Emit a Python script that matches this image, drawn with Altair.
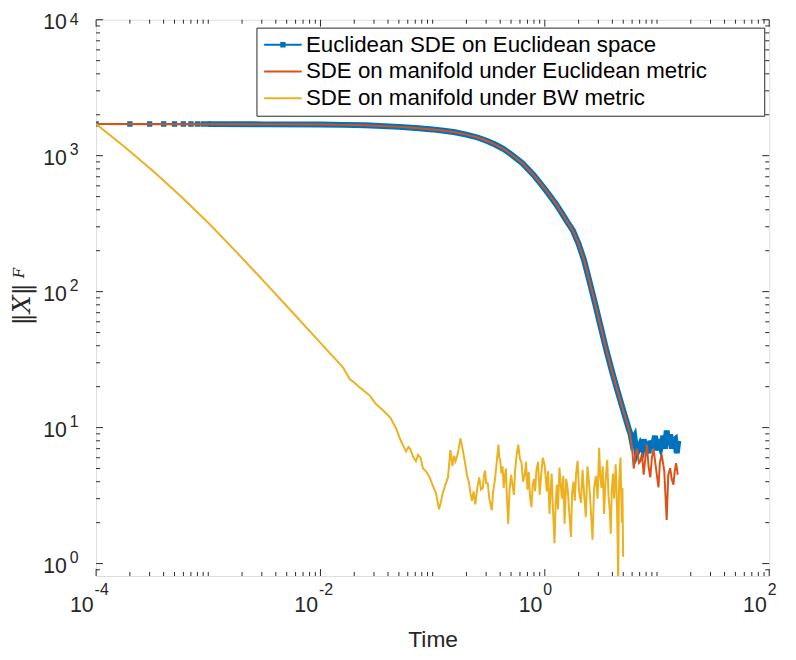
import altair as alt
import pandas as pd

# ---------------- data ----------------
SERIES = ["Euclidean SDE on Euclidean space",
          "SDE on manifold under Euclidean metric",
          "SDE on manifold under BW metric"]
COLORS = ["#0072BD", "#D95319", "#EDB120"]

# early marker points of the blue series (distinct squares)
marker_t = [1e-4, 2e-4, 3e-4, 4e-4, 5e-4, 6e-4, 7e-4, 8e-4, 9e-4, 1e-3]
marker_v = [1710, 1710, 1710, 1710, 1710, 1710, 1710, 1710, 1710, 1710]

# smooth part shared by blue and red
smooth_t = [1e-4, 1e-3, 3.16e-3, 1e-2, 0.0158, 0.0251, 0.0501, 0.0708, 0.1,
            0.1259, 0.1585, 0.1995, 0.2512, 0.302, 0.3606, 0.4266, 0.5012,
            0.631, 0.794, 1.0, 1.122, 1.259, 1.413, 1.585, 1.778,
            1.995, 2.239, 2.512, 2.818, 3.162, 3.548, 3.981, 4.467, 5.012, 5.623]
smooth_v = [1710, 1706, 1700, 1694, 1685, 1675, 1629, 1597, 1560,
            1524, 1486, 1429, 1361, 1288, 1208, 1122, 1023,
            881, 721, 569, 501, 440, 380, 326, 282,
            226, 170, 117.5, 80.4, 54.3, 36.7, 25.7, 18.4, 13.3, 9.66]

blue_tail_t = [5.8, 6.0, 6.3, 6.6, 7.1, 7.4, 7.6, 7.9, 8.1, 8.4, 8.7, 9.1, 9.6,
               10.0, 10.3, 10.8, 11.4, 11.8, 12.2, 12.6, 13.1, 13.6, 14.0,
               14.5, 15.0, 15.5]
blue_tail_v = [9.0, 7.8, 8.5, 6.5, 7.55, 7.0, 8.2, 6.8, 7.55, 6.5, 8.0, 7.0, 8.7,
               6.8, 8.2, 7.2, 8.7, 7.0, 9.5, 7.5, 8.9, 7.0, 8.0,
               8.2, 6.5, 8.0]

red_tail_t = [5.8, 6.0, 6.2, 6.4, 6.64, 6.9, 7.11, 7.35, 7.6, 7.85, 8.13, 8.4,
              8.71, 9.0, 9.31, 9.8, 10.3, 10.6, 11.0, 11.6, 12.2, 12.6, 13.1,
              13.5, 14.0, 14.4, 14.8, 15.3]
red_tail_v = [8.5, 7.0, 5.0, 6.2, 7.0, 5.5, 5.66, 6.5, 4.5, 5.8, 7.5, 5.2,
              4.3, 6.0, 7.0, 5.0, 3.63, 5.5, 6.34, 4.8, 2.09, 4.5, 5.03,
              4.2, 3.81, 4.8, 5.47, 4.5]

orange_t = [1e-4, 1.778e-4, 3.162e-4, 5.623e-4, 1e-3, 1.778e-3, 3.162e-3,
            5.623e-3, 1e-2, 1.259e-2, 1.585e-2,
            0.0183, 0.02, 0.022, 0.0245, 0.0275, 0.031, 0.036, 0.039, 0.042,
            0.0472, 0.052, 0.0545, 0.0579, 0.061, 0.063, 0.067, 0.071, 0.074,
            0.078, 0.082, 0.087, 0.093, 0.0995, 0.107, 0.114, 0.118, 0.122,
            0.130, 0.137, 0.144, 0.150, 0.155, 0.160, 0.168, 0.177, 0.186,
            0.196, 0.203, 0.21, 0.217, 0.224, 0.232, 0.240, 0.25, 0.26, 0.27,
            0.28, 0.287, 0.294, 0.30, 0.31, 0.32, 0.337, 0.345, 0.36, 0.372,
            0.386, 0.393, 0.40, 0.41, 0.42, 0.43, 0.44, 0.45, 0.46, 0.472,
            0.485, 0.50, 0.515, 0.53, 0.545, 0.56, 0.579, 0.60, 0.62, 0.64,
            0.663, 0.68, 0.70, 0.72, 0.74, 0.76, 0.78, 0.80, 0.82, 0.841,
            0.87, 0.90, 0.93, 0.96, 0.995, 1.02, 1.04, 1.07, 1.10, 1.13, 1.15,
            1.18, 1.22, 1.25, 1.28, 1.31, 1.35, 1.38, 1.42, 1.46, 1.50, 1.55,
            1.60, 1.65, 1.71, 1.75, 1.80, 1.85, 1.90, 1.96, 2.02, 2.1, 2.17,
            2.25, 2.32, 2.4, 2.48, 2.55, 2.66, 2.75, 2.85, 2.95, 3.05, 3.12,
            3.2, 3.28, 3.37, 3.47, 3.6, 3.7, 3.8, 3.87, 3.95, 4.05, 4.15, 4.28,
            4.35, 4.4, 4.46, 4.51, 4.56, 4.6, 4.66, 4.73, 4.79, 4.85, 4.92,
            4.99]
orange_v = [1710, 1169, 782, 508, 321, 196, 118,
            70.5, 42.0, 34.1, 27.7,
            22.7, 21.5, 20.0, 18.6, 17.2, 15.0, 13.4, 12.6, 11.8,
            9.85, 8.0, 7.4, 6.69, 7.2, 7.0, 6.1, 5.66, 6.3,
            6.0, 5.0, 4.79, 4.4, 3.81, 3.3, 2.51, 2.8, 3.2,
            3.81, 4.3, 6.84, 5.2, 6.2, 5.66, 6.5, 8.32, 6.8,
            5.3, 4.4, 4.0, 3.3, 2.9, 3.4, 2.73, 3.6, 4.3, 3.5,
            3.6, 4.5, 4.83, 3.9, 3.9, 3.0, 2.47, 3.3, 4.2, 5.5,
            7.5, 6.0, 5.8, 4.6, 5.2, 3.6, 4.4, 5.0, 3.0, 1.96,
            3.5, 4.5, 3.8, 3.2, 5.0, 6.2, 7.5, 5.9, 5.5, 4.0,
            4.54, 5.6, 3.5, 4.7, 3.0, 2.6, 3.8, 4.2, 3.4, 4.83,
            5.6, 3.2, 4.6, 6.0, 5.37, 4.2, 3.4, 4.8, 2.32, 3.6, 4.6,
            2.6, 1.41, 2.8, 3.8, 2.5, 5.08, 4.0, 3.0, 4.4, 1.96, 4.2,
            3.5, 2.4, 1.57, 3.3, 4.0, 2.9, 4.6, 5.7, 3.4, 2.8, 4.9,
            3.07, 2.2, 5.2, 3.9, 2.8, 1.5, 3.6, 4.4, 3.0, 7.1, 4.4,
            3.6, 5.2, 2.32, 4.0, 5.8, 3.1, 2.4, 1.66, 3.4, 4.6, 3.0, 5.37,
            3.8, 2.6, 1.4, 0.7, 2.6, 4.0, 5.0, 6.02, 3.4, 2.0, 3.6,
            1.12]

# axis ticks / labels (base "10" and exponents drawn separately, MATLAB style)
x_major = [1e-4, 1e-2, 1.0, 100.0]
x_exponents = ["-4", "-2", "0", "2"]
y_major = [1.0, 10.0, 100.0, 1000.0, 10000.0]
y_exponents = ["0", "1", "2", "3", "4"]
x_decades = [1e-4, 1e-3, 1e-2, 1e-1, 1.0, 10.0]
y_decades = [0.1, 1.0, 10.0, 100.0, 1000.0]
multipliers = [1, 2, 3, 4, 5, 6, 7, 8, 9]

x_minor = [d * m for d in x_decades for m in multipliers
           if not any(abs(d * m - M) < 1e-9 * M for M in x_major)]
y_minor = [d * m for d in y_decades for m in multipliers
           if d * m >= 0.81 and not any(abs(d * m - M) < 1e-9 * M for M in y_major)]

# ---------------- frames ----------------
blue = pd.DataFrame({"t": smooth_t + blue_tail_t, "v": smooth_v + blue_tail_v})
blue_band = blue[blue["t"] >= 8e-4]
red = pd.DataFrame({"t": smooth_t + red_tail_t, "v": smooth_v + red_tail_v})
orange = pd.DataFrame({"t": orange_t, "v": orange_v})
markers = pd.DataFrame({"t": marker_t, "v": marker_v, "series": [SERIES[0]] * len(marker_t)})

W, H = 680, 562
FONT = "Liberation Sans"
AX = "#262626"

def label_expr(vals, labels):
    expr = "'" + labels[-1] + "'"
    for v, l in reversed(list(zip(vals[:-1], labels[:-1]))):
        expr = f"datum.value < {v * 1.5} ? '{l}' : " + expr
    return expr

xs = alt.Scale(type="log", domain=[1e-4, 100], nice=False)
ys = alt.Scale(type="log", domain=[0.81, 10000], nice=False)

common = dict(ticks=False, domain=False, grid=False, labelFont=FONT,
              labelColor=AX, labelFlush=False, labelOverlap=False)

xaxis = alt.Axis(values=x_major, labelExpr="'10'", labelFontSize=21.5,
                 labelAlign="right", labelOffset=-3, labelPadding=19,
                 title="Time", titleFont=FONT, titleFontSize=23,
                 titleFontWeight="normal", titleColor=AX, titlePadding=13, **common)
xexp_axis = alt.Axis(orient="top", offset=-(H + 22), values=x_major,
                     labelExpr=label_expr(x_major, x_exponents), labelFontSize=16,
                     labelAlign="left", labelOffset=-2, labelPadding=0,
                     labelBaseline="bottom", title=None, **common)
yaxis = alt.Axis(values=y_major, labelExpr="'10'", labelFontSize=21.5,
                 labelAlign="right", labelPadding=30, labelOffset=3,
                 title="\u2016X\u2016", titleFont="DejaVu Serif",
                 titleFontStyle="italic", titleFontSize=25,
                 titleFontWeight="normal", titleColor=AX, titleX=-75, titleY=287,
                 titleAngle=270, titleAlign="center", titleBaseline="middle", **common)
yexp_axis = alt.Axis(orient="right", offset=-(W + 27), values=y_major,
                     labelExpr=label_expr(y_major, y_exponents), labelFontSize=16,
                     labelAlign="left", labelPadding=0,
                     labelOffset={"condition": {"test": "datum.value > 5000", "value": -0.5},
                                  "value": -6},
                     title=None, **common)

X = alt.X("t:Q", scale=xs, axis=xaxis)
Y = alt.Y("v:Q", scale=ys, axis=yaxis)
Xn = alt.X("t:Q", scale=xs, axis=None)
Yn = alt.Y("v:Q", scale=ys, axis=None)

blue_line = alt.Chart(blue).mark_line(color=COLORS[0], strokeWidth=2, clip=True).encode(x=X, y=Y)
blue_thick = alt.Chart(blue_band).mark_line(color=COLORS[0], strokeWidth=6, clip=True).encode(x=Xn, y=Yn)

PATHS = ["M-2,0H2M-0.18,-0.18H0.18V0.18H-0.18Z", "M-2,0H2", "M-2,0H2"]
PAD = "\u2800" * 3
leg = dict(orient="none", legendX=162, legendY=8, title=None, padding=6,
           strokeColor=AX, fillColor="white", labelFont=FONT, labelFontSize=22.5,
           labelColor="black", symbolSize=361, symbolStrokeWidth=2,
           symbolOffset=9.5, labelOffset=12, rowPadding=4, labelLimit=800,
           labelExpr="datum.label + '" + PAD + "'")
marker_layer = alt.Chart(markers).mark_point(filled=False, size=361, strokeWidth=2,
                                             opacity=1, clip=True).encode(
    x=Xn, y=Yn,
    color=alt.Color("series:N", scale=alt.Scale(domain=SERIES, range=COLORS), legend=alt.Legend(**leg)),
    shape=alt.Shape("series:N", scale=alt.Scale(domain=SERIES, range=PATHS), legend=alt.Legend(**leg)),
)

red_line = alt.Chart(red).mark_line(color=COLORS[1], strokeWidth=2, clip=True).encode(x=Xn, y=Yn)
orange_line = alt.Chart(orange).mark_line(color=COLORS[2], strokeWidth=2, clip=True).encode(x=Xn, y=Yn)

# inward ticks (MATLAB style)
xmaj = pd.DataFrame({"t": x_major})
xmin = pd.DataFrame({"t": x_minor})
ymaj = pd.DataFrame({"v": y_major})
ymin = pd.DataFrame({"v": y_minor})
tick_layers = [
    alt.Chart(xmaj).mark_rule(color=AX, strokeWidth=1).encode(
        x=alt.X("t:Q", scale=xs, axis=xexp_axis), y=alt.value(H), y2=alt.value(H - 7)),
    alt.Chart(xmaj).mark_rule(color=AX, strokeWidth=1).encode(x=Xn, y=alt.value(0), y2=alt.value(7)),
    alt.Chart(xmin).mark_rule(color=AX, strokeWidth=1).encode(x=Xn, y=alt.value(H), y2=alt.value(H - 4)),
    alt.Chart(xmin).mark_rule(color=AX, strokeWidth=1).encode(x=Xn, y=alt.value(0), y2=alt.value(4)),
    alt.Chart(ymaj).mark_rule(color=AX, strokeWidth=1).encode(
        y=alt.Y("v:Q", scale=ys, axis=yexp_axis), x=alt.value(0), x2=alt.value(7)),
    alt.Chart(ymaj).mark_rule(color=AX, strokeWidth=1).encode(y=Yn, x=alt.value(W), x2=alt.value(W - 7)),
    alt.Chart(ymin).mark_rule(color=AX, strokeWidth=1).encode(y=Yn, x=alt.value(0), x2=alt.value(4)),
    alt.Chart(ymin).mark_rule(color=AX, strokeWidth=1).encode(y=Yn, x=alt.value(W), x2=alt.value(W - 4)),
]

sub_f = alt.Chart(pd.DataFrame({"s": ["F"]})).mark_text(
    font="DejaVu Serif", fontStyle="italic", fontSize=15, angle=270, color=AX
).encode(text="s:N", x=alt.value(-78), y=alt.value(256))

chart = alt.layer(blue_line, blue_thick, marker_layer, red_line, orange_line,
                  *tick_layers, sub_f).resolve_axis(
    x="independent", y="independent"
).properties(
    width=W, height=H,
    autosize=alt.AutoSizeParams(type="none"),
    padding={"left": 89, "top": 8.5, "right": 19, "bottom": 81},
).configure_view(stroke=AX, strokeWidth=1).configure(background="white")

chart.save("out.html", embed_options={"renderer": "svg", "actions": False})
